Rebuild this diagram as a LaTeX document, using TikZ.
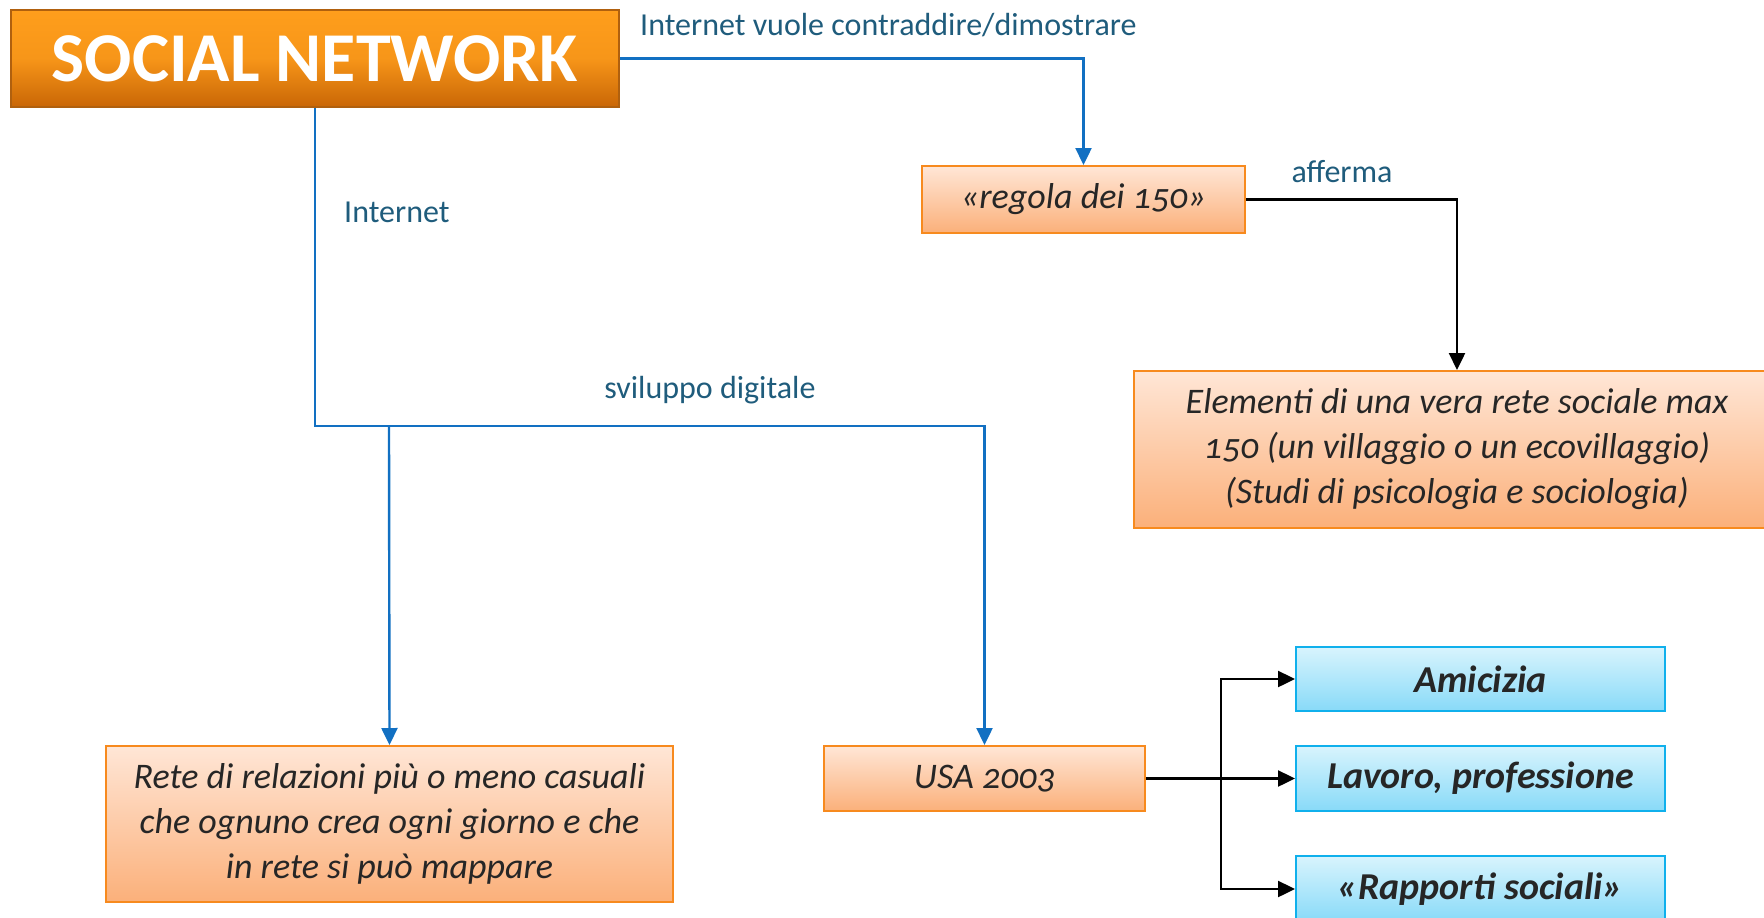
\documentclass[tikz,border=0pt]{standalone}
\usepackage{fontspec}
\setmainfont{Carlito}[Numbers=OldStyle]
\usetikzlibrary{arrows.meta,positioning}
\definecolor{snlight}{HTML}{FF9E1C}
\definecolor{sndark}{HTML}{C96606}
\definecolor{snline}{HTML}{B0600E}
\definecolor{peachtop}{HTML}{FFE6D6}
\definecolor{peachbot}{HTML}{FBB07A}
\definecolor{peachline}{HTML}{F78A1E}
\definecolor{skytop}{HTML}{D8F4FD}
\definecolor{skybot}{HTML}{88DAF8}
\definecolor{skyline}{HTML}{10B0EC}
\definecolor{linkblue}{HTML}{1270C2}
\definecolor{labelteal}{HTML}{1F5C7C}
\definecolor{boxtext}{HTML}{262626}

\begin{document}
\begin{tikzpicture}[x=1pt,y=-1pt,>={Triangle[length=17pt,width=16pt]},line width=2.4pt,
    title box/.style={draw=snline,line width=1.5pt,top color=snlight,bottom color=sndark,
      middle color=snlight!85!sndark,text=white,inner sep=0pt,
      font=\fontsize{70}{78}\selectfont\bfseries},
    peach box/.style={draw=peachline,line width=2pt,top color=peachtop,bottom color=peachbot,
      text=boxtext,align=center,inner sep=0pt,font=\fontsize{36}{45}\selectfont\itshape},
    sky box/.style={draw=skyline,line width=2pt,top color=skytop,bottom color=skybot,
      text=boxtext,inner sep=0pt,minimum width=369pt,
      font=\fontsize{38}{44}\selectfont\bfseries\itshape},
    blue link/.style={->,draw=linkblue},
    black link/.style={->,draw=black},
    link label/.style={text=labelteal,inner sep=0pt,font=\fontsize{32}{38}\selectfont}]
  \useasboundingbox (0,0) rectangle (1764,918);

  % boxes
  \node[title box,minimum width=608pt,minimum height=97pt] (sn) at (315,58.5) {SOCIAL NETWORK};
  \node[peach box,minimum width=323pt,minimum height=67pt] (regola) at (1083.5,199.5) {«regola dei 150»};
  \node[peach box,minimum width=646pt,minimum height=157pt] (elem) at (1457,449.5)
    {Elementi di una vera rete sociale max\\150 (un villaggio o un ecovillaggio)\\(Studi di psicologia e sociologia)};
  \node[peach box,minimum width=567pt,minimum height=156pt] (rete) at (389.5,824)
    {Rete di relazioni più o meno casuali\\che ognuno crea ogni giorno e che\\in rete si può mappare};
  \node[peach box,minimum width=321pt,minimum height=65pt] (usa) at (984.5,778.5) {USA 2003};
  \node[sky box,minimum height=64pt] (amic) at (1480.5,679) {Amicizia};
  \node[sky box,minimum height=65pt] (lavoro) at (1480.5,778.5) {Lavoro, professione};
  \node[sky box,minimum height=66pt] (rapp) at (1480.5,889) {«Rapporti sociali»};

  \coordinate (fork) at (389,426);
  \coordinate (hub) at (1221,778.5);

  % connectors
  \draw[blue link] (sn.east) -| (regola.north);
  \draw[blue link] (sn.south) |- (fork) -| (usa.north);
  \draw[blue link] (fork) -- (rete.north);
  \draw[black link] (regola.east) -| (elem.north);
  \draw[black link] (usa.east) -- (lavoro.west);
  \draw[black link] (hub) |- (amic.west);
  \draw[black link] (hub) |- (rapp.west);

  % labels
  \node[link label,anchor=west] (lcontra) at (639,25) {Internet vuole contraddire/dimostrare};
  \node[link label,anchor=west] (linternet) at (343,212) {Internet};
  \node[link label] (lsviluppo) at (710,390) {sviluppo digitale};
  \node[link label] (lafferma) at (1342,172) {afferma};
\end{tikzpicture}
\end{document}
